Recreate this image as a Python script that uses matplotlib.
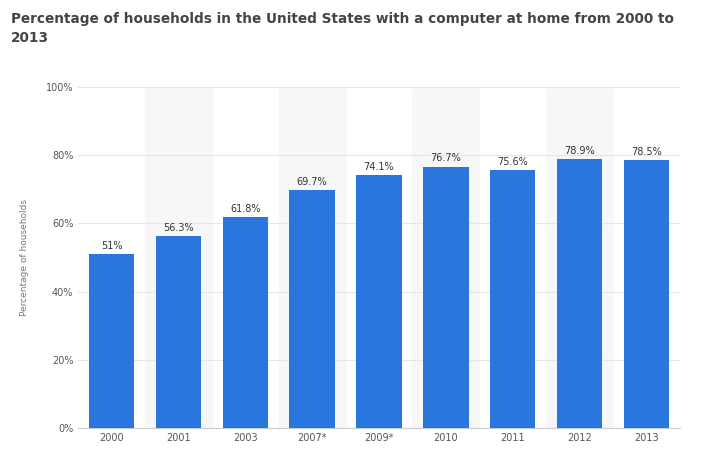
import matplotlib
matplotlib.use("Agg")
import matplotlib.pyplot as plt

years  = ["2000", "2001", "2003", "2007*", "2009*", "2010", "2011", "2012", "2013"]
values = [51, 56.3, 61.8, 69.7, 74.1, 76.7, 75.6, 78.9, 78.5]
labels = ["51%", "56.3%", "61.8%", "69.7%", "74.1%", "76.7%", "75.6%", "78.9%", "78.5%"]

fig = plt.figure(figsize=(7.11, 4.61), dpi=100)
ax = fig.add_axes([0.11, 0.072, 0.846, 0.739])

x = range(len(years))
for i in x:
    if i % 2 == 1:
        ax.axvspan(i - 0.5, i + 0.5, color="#f7f7f7", zorder=0)

ax.bar(x, values, width=0.68, color="#2976de", zorder=3)
for i, (v, t) in enumerate(zip(values, labels)):
    ax.text(i, v + 1, t, ha="center", va="bottom", fontsize=7, color="#333333", zorder=4)

ax.set_xlim(-0.5, len(years) - 0.5)
ax.set_ylim(0, 100)
ax.set_yticks(range(0, 101, 20))
ax.set_yticklabels([f"{t}%" for t in range(0, 101, 20)])
ax.set_xticks(list(x))
ax.set_xticklabels(years)
ax.tick_params(axis="both", labelsize=7, colors="#555555", length=0)
ax.grid(axis="y", color="#e6e6e6", linewidth=0.8, zorder=1)
for s in ["top", "right", "left"]:
    ax.spines[s].set_visible(False)
ax.spines["bottom"].set_color("#cccccc")
ax.set_ylabel("Percentage of households", fontsize=6.5, color="#777777", labelpad=12)

fig.text(0.015, 0.975, "Percentage of households in the United States with a computer at home from 2000 to\n2013",
         ha="left", va="top", fontsize=9.8, fontweight="bold", color="#444444", linespacing=1.5)

fig.savefig("out.png", dpi=100)
